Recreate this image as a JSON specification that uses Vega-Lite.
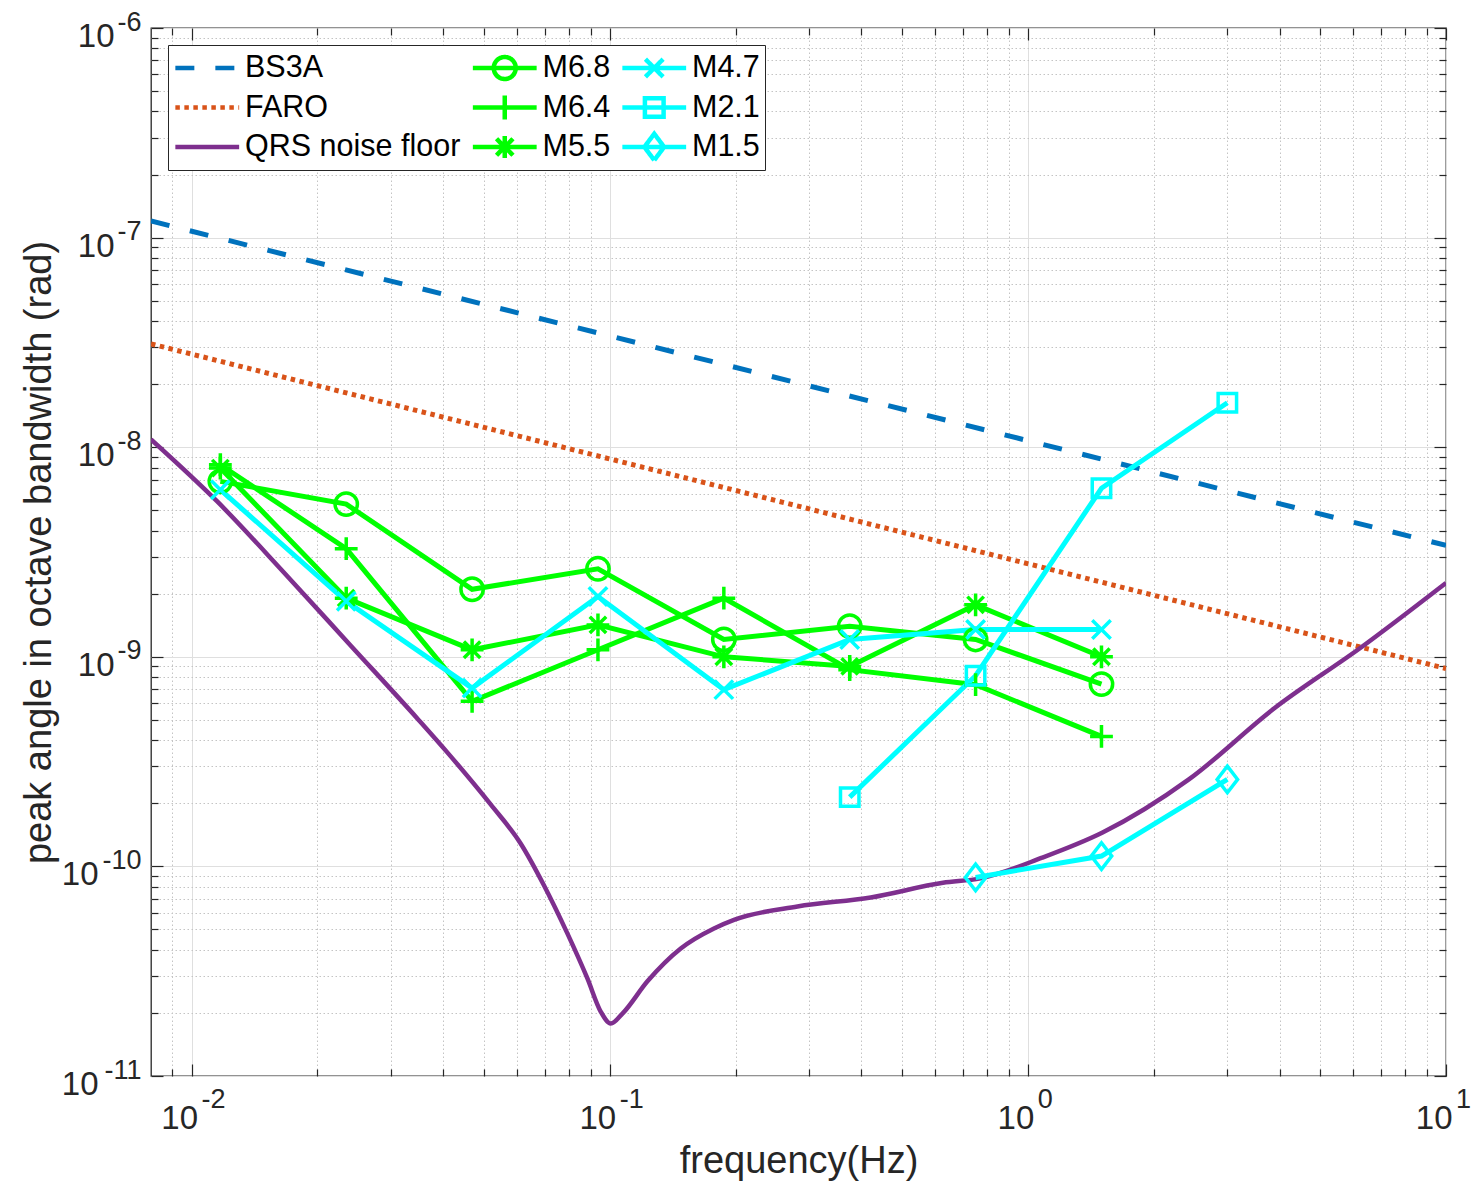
{
  "$schema": "https://vega.github.io/schema/vega-lite/v6.json",
  "width": 1295,
  "height": 1048,
  "autosize": {"type": "none"},
  "padding": {"left": 151, "top": 28, "right": 30, "bottom": 109},
  "background": "white",
  "config": {
    "view": {"stroke": "#262626", "strokeWidth": 1.3},
    "font": "Liberation Sans",
    "axis": {"labelFont": "Liberation Sans", "titleFont": "Liberation Sans", "labelColor": "#262626", "titleColor": "#262626", "tickColor": "#262626", "tickWidth": 1.2}
  },
  "data": {"values": [
    {"series": "BS3A", "f": 0.008, "v": 1.20e-7},
    {"series": "BS3A", "f": 10, "v": 3.40e-9},
    {"series": "FARO", "f": 0.008, "v": 3.11e-8},
    {"series": "FARO", "f": 10, "v": 8.79e-10},
    {"series": "QRS noise floor", "f": 0.008, "v": 1.09e-8},
    {"series": "QRS noise floor", "f": 0.01152, "v": 5.51e-9},
    {"series": "QRS noise floor", "f": 0.01663, "v": 2.527e-9},
    {"series": "QRS noise floor", "f": 0.02401, "v": 1.133e-9},
    {"series": "QRS noise floor", "f": 0.03467, "v": 5.08e-10},
    {"series": "QRS noise floor", "f": 0.04089, "v": 3.50e-10},
    {"series": "QRS noise floor", "f": 0.05192, "v": 1.976e-10},
    {"series": "QRS noise floor", "f": 0.06124, "v": 1.287e-10},
    {"series": "QRS noise floor", "f": 0.06966, "v": 8.11e-11},
    {"series": "QRS noise floor", "f": 0.07921, "v": 4.79e-11},
    {"series": "QRS noise floor", "f": 0.08845, "v": 2.92e-11},
    {"series": "QRS noise floor", "f": 0.09517, "v": 2.03e-11},
    {"series": "QRS noise floor", "f": 0.1006, "v": 1.78e-11},
    {"series": "QRS noise floor", "f": 0.1074, "v": 1.99e-11},
    {"series": "QRS noise floor", "f": 0.1231, "v": 2.83e-11},
    {"series": "QRS noise floor", "f": 0.1479, "v": 4.06e-11},
    {"series": "QRS noise floor", "f": 0.1776, "v": 5.06e-11},
    {"series": "QRS noise floor", "f": 0.1983, "v": 5.56e-11},
    {"series": "QRS noise floor", "f": 0.2812, "v": 6.44e-11},
    {"series": "QRS noise floor", "f": 0.421, "v": 7.11e-11},
    {"series": "QRS noise floor", "f": 0.6267, "v": 8.35e-11},
    {"series": "QRS noise floor", "f": 0.77, "v": 8.77e-11},
    {"series": "QRS noise floor", "f": 1.082, "v": 1.10e-10},
    {"series": "QRS noise floor", "f": 1.509, "v": 1.45e-10},
    {"series": "QRS noise floor", "f": 2.427, "v": 2.60e-10},
    {"series": "QRS noise floor", "f": 3.9, "v": 5.71e-10},
    {"series": "QRS noise floor", "f": 6.272, "v": 1.11e-9},
    {"series": "QRS noise floor", "f": 10, "v": 2.25e-9},
    {"series": "M6.8", "f": 0.01172, "v": 6.87e-9},
    {"series": "M6.8", "f": 0.02344, "v": 5.35e-9},
    {"series": "M6.8", "f": 0.04688, "v": 2.10e-9},
    {"series": "M6.8", "f": 0.09375, "v": 2.63e-9},
    {"series": "M6.8", "f": 0.1875, "v": 1.21e-9},
    {"series": "M6.8", "f": 0.375, "v": 1.40e-9},
    {"series": "M6.8", "f": 0.75, "v": 1.21e-9},
    {"series": "M6.8", "f": 1.5, "v": 7.41e-10},
    {"series": "M6.4", "f": 0.01172, "v": 8.25e-9},
    {"series": "M6.4", "f": 0.02344, "v": 3.28e-9},
    {"series": "M6.4", "f": 0.04688, "v": 6.13e-10},
    {"series": "M6.4", "f": 0.09375, "v": 1.08e-9},
    {"series": "M6.4", "f": 0.1875, "v": 1.905e-9},
    {"series": "M6.4", "f": 0.375, "v": 8.68e-10},
    {"series": "M6.4", "f": 0.75, "v": 7.36e-10},
    {"series": "M6.4", "f": 1.5, "v": 4.17e-10},
    {"series": "M5.5", "f": 0.01172, "v": 7.95e-9},
    {"series": "M5.5", "f": 0.02344, "v": 1.905e-9},
    {"series": "M5.5", "f": 0.04688, "v": 1.08e-9},
    {"series": "M5.5", "f": 0.09375, "v": 1.42e-9},
    {"series": "M5.5", "f": 0.1875, "v": 1.00e-9},
    {"series": "M5.5", "f": 0.375, "v": 9.00e-10},
    {"series": "M5.5", "f": 0.75, "v": 1.77e-9},
    {"series": "M5.5", "f": 1.5, "v": 1.00e-9},
    {"series": "M4.7", "f": 0.01172, "v": 6.27e-9},
    {"series": "M4.7", "f": 0.02344, "v": 1.84e-9},
    {"series": "M4.7", "f": 0.04688, "v": 7.09e-10},
    {"series": "M4.7", "f": 0.09375, "v": 1.94e-9},
    {"series": "M4.7", "f": 0.1875, "v": 6.97e-10},
    {"series": "M4.7", "f": 0.375, "v": 1.21e-9},
    {"series": "M4.7", "f": 0.75, "v": 1.35e-9},
    {"series": "M4.7", "f": 1.5, "v": 1.35e-9},
    {"series": "M2.1", "f": 0.375, "v": 2.14e-10},
    {"series": "M2.1", "f": 0.75, "v": 8.12e-10},
    {"series": "M2.1", "f": 1.5, "v": 6.37e-9},
    {"series": "M2.1", "f": 3.0, "v": 1.63e-8},
    {"series": "M1.5", "f": 0.75, "v": 8.86e-11},
    {"series": "M1.5", "f": 1.5, "v": 1.12e-10},
    {"series": "M1.5", "f": 3.0, "v": 2.60e-10}
  ]},
  "layer": [
    {
      "transform": [{"filter": "false"}],
      "mark": {"type": "point", "filled": false, "opacity": 1, "strokeWidth": 4.5},
      "encoding": {
        "x": {"field": "f", "type": "quantitative", "scale": {"type": "log", "domain": [0.008, 10], "nice": false}, "axis": null},
        "y": {"field": "v", "type": "quantitative", "scale": {"type": "log", "domain": [1e-11, 1e-6], "nice": false}, "axis": null},
        "color": {"field": "series", "type": "nominal", "scale": {"domain": ["BS3A", "FARO", "QRS noise floor", "M6.8", "M6.4", "M5.5", "M4.7", "M2.1", "M1.5"], "range": ["#0072BD", "#D95319", "#7E2F8E", "#00FF00", "#00FF00", "#00FF00", "#00FFFF", "#00FFFF", "#00FFFF"]},
          "legend": {"title": null, "orient": "top-left", "offset": 17, "padding": 5, "fillColor": "white", "strokeColor": "#262626", "columns": 3, "columnPadding": 9.5, "rowPadding": 3.5, "clipHeight": 36, "symbolOffset": 19, "labelOffset": 22.5, "symbolSize": 484, "symbolStrokeWidth": 4.5, "symbolFillColor": "transparent", "symbolOpacity": 1, "labelFont": "Liberation Sans", "labelFontSize": 30.5, "labelColor": "#000000", "labelLimit": 400, "cornerRadius": 0}},
        "strokeDash": {"field": "series", "type": "nominal", "scale": {"domain": ["BS3A", "FARO", "QRS noise floor", "M6.8", "M6.4", "M5.5", "M4.7", "M2.1", "M1.5"], "range": [[19, 21], [4.5, 4.5], [1, 0], [1, 0], [1, 0], [1, 0], [1, 0], [1, 0], [1, 0]]},
          "legend": {"title": null, "orient": "top-left", "offset": 17, "padding": 5, "fillColor": "white", "strokeColor": "#262626", "columns": 3, "columnPadding": 9.5, "rowPadding": 3.5, "clipHeight": 36, "symbolOffset": 19, "labelOffset": 22.5, "symbolSize": 484, "symbolStrokeWidth": 4.5, "symbolFillColor": "transparent", "symbolOpacity": 1, "labelFont": "Liberation Sans", "labelFontSize": 30.5, "labelColor": "#000000", "labelLimit": 400, "cornerRadius": 0}},
        "shape": {"field": "series", "type": "nominal", "scale": {"domain": ["BS3A", "FARO", "QRS noise floor", "M6.8", "M6.4", "M5.5", "M4.7", "M2.1", "M1.5"], "range": [
          "M-2.9,0H2.9",
          "M-2.9,0H2.9",
          "M-2.9,0H2.9",
          "M-2.9,0H2.9M1,0A1,1,0,1,1,-1,0A1,1,0,1,1,1,0",
          "M-2.9,0H2.9M0,-1.1V1.1",
          "M-2.9,0H2.9M0,-1V1M-0.75,-0.75L0.75,0.75M-0.75,0.75L0.75,-0.75",
          "M-2.9,0H2.9M-0.8,-0.8L0.8,0.8M-0.8,0.8L0.8,-0.8",
          "M-2.9,0H2.9M-0.85,-0.85H0.85V0.85H-0.85Z",
          "M-2.9,0H2.9M0,-1.2L0.9,0L0,1.2L-0.9,0Z"
        ]},
          "legend": {"title": null, "orient": "top-left", "offset": 17, "padding": 5, "fillColor": "white", "strokeColor": "#262626", "columns": 3, "columnPadding": 9.5, "rowPadding": 3.5, "clipHeight": 36, "symbolOffset": 19, "labelOffset": 22.5, "symbolSize": 484, "symbolStrokeWidth": 4.5, "symbolFillColor": "transparent", "symbolOpacity": 1, "labelFont": "Liberation Sans", "labelFontSize": 30.5, "labelColor": "#000000", "labelLimit": 400, "cornerRadius": 0}}
      }
    },
    {
      "transform": [{"filter": "datum.series === 'BS3A'"}],
      "mark": {"type": "line", "strokeWidth": 5, "color": "#0072BD", "strokeDash": [19, 21], "clip": true},
      "encoding": {
        "x": {"field": "f", "type": "quantitative", "scale": {"type": "log", "domain": [0.008, 10], "nice": false},
          "axis": {"orient": "bottom", "values": [0.01, 0.1, 1, 10], "labelExpr": "'10'", "labelFontSize": 33, "labelAlign": "right", "labelOffset": 6, "labelBaseline": "top", "labelPadding": 26, "labelFlush": false, "labelOverlap": false, "ticks": false, "domain": false, "grid": true, "gridColor": "#dfdfdf", "gridWidth": 1, "title": "frequency(Hz)", "titleFontSize": 38, "titleFontWeight": "normal", "titlePadding": 7}},
        "y": {"field": "v", "type": "quantitative", "scale": {"type": "log", "domain": [1e-11, 1e-6], "nice": false},
          "axis": {"orient": "left", "values": [1e-6, 1e-7, 1e-8, 1e-9], "labelExpr": "'10'", "labelFontSize": 33, "labelAlign": "right", "labelBaseline": "middle", "labelOffset": 8.4, "labelPadding": 37, "labelOverlap": false, "ticks": false, "domain": false, "grid": true, "gridColor": "#dfdfdf", "gridWidth": 1, "title": null}}
      }
    },
    {
      "transform": [{"filter": "datum.series === 'FARO'"}],
      "mark": {"type": "line", "strokeWidth": 5, "color": "#D95319", "strokeDash": [4.5, 4.5], "clip": true},
      "encoding": {
        "x": {"field": "f", "type": "quantitative", "scale": {"type": "log", "domain": [0.008, 10], "nice": false}, "axis": null},
        "y": {"field": "v", "type": "quantitative", "scale": {"type": "log", "domain": [1e-11, 1e-6], "nice": false}, "axis": null}
      }
    },
    {
      "transform": [{"filter": "datum.series === 'QRS noise floor'"}],
      "mark": {"type": "line", "strokeWidth": 4.5, "color": "#7E2F8E", "interpolate": "monotone", "clip": true},
      "encoding": {
        "x": {"field": "f", "type": "quantitative", "scale": {"type": "log", "domain": [0.008, 10], "nice": false}, "axis": null},
        "y": {"field": "v", "type": "quantitative", "scale": {"type": "log", "domain": [1e-11, 1e-6], "nice": false}, "axis": null}
      }
    },
    {
      "transform": [{"filter": "datum.series === 'M6.8' || datum.series === 'M6.4' || datum.series === 'M5.5'"}],
      "mark": {"type": "line", "strokeWidth": 5, "color": "#00FF00", "clip": true},
      "encoding": {
        "x": {"field": "f", "type": "quantitative", "scale": {"type": "log", "domain": [0.008, 10], "nice": false}, "axis": null},
        "y": {"field": "v", "type": "quantitative", "scale": {"type": "log", "domain": [1e-11, 1e-6], "nice": false}, "axis": null},
        "detail": {"field": "series", "type": "nominal"}
      }
    },
    {
      "transform": [{"filter": "datum.series === 'M4.7' || datum.series === 'M2.1' || datum.series === 'M1.5'"}],
      "mark": {"type": "line", "strokeWidth": 5, "color": "#00FFFF", "clip": true},
      "encoding": {
        "x": {"field": "f", "type": "quantitative", "scale": {"type": "log", "domain": [0.008, 10], "nice": false}, "axis": null},
        "y": {"field": "v", "type": "quantitative", "scale": {"type": "log", "domain": [1e-11, 1e-6], "nice": false}, "axis": null},
        "detail": {"field": "series", "type": "nominal"}
      }
    },
    {
      "transform": [{"filter": "datum.series === 'M6.8'"}],
      "mark": {"type": "point", "shape": "circle", "size": 500, "filled": false, "color": "#00FF00", "strokeWidth": 3.5, "opacity": 1},
      "encoding": {
        "x": {"field": "f", "type": "quantitative", "scale": {"type": "log", "domain": [0.008, 10], "nice": false},
          "axis": {"orient": "bottom", "values": [0.01, 0.1, 1, 10], "labelExpr": "datum.value < 0.05 ? '-2' : datum.value < 0.5 ? '-1' : datum.value < 5 ? '0' : '1'", "labelFontSize": 27, "labelAlign": "left", "labelOffset": 9.5, "labelBaseline": "top", "labelPadding": 10, "labelFlush": false, "labelOverlap": false, "ticks": false, "domain": false, "grid": false, "title": null}},
        "y": {"field": "v", "type": "quantitative", "scale": {"type": "log", "domain": [1e-11, 1e-6], "nice": false},
          "axis": {"orient": "left", "values": [1e-6, 1e-7, 1e-8, 1e-9, 1e-10, 1e-11], "labelExpr": "'-' + round(-log(datum.value) / LN10)", "labelFontSize": 27, "labelAlign": "right", "labelBaseline": "middle", "labelOffset": -6, "labelPadding": 10, "labelOverlap": false, "ticks": false, "domain": false, "grid": false, "title": null}}
      }
    },
    {
      "transform": [{"filter": "datum.series === 'M6.4'"}],
      "mark": {"type": "point", "shape": "M-1,0H1M0,-1V1", "size": 520, "filled": false, "color": "#00FF00", "strokeWidth": 3.5, "opacity": 1},
      "encoding": {
        "x": {"field": "f", "type": "quantitative", "scale": {"type": "log", "domain": [0.008, 10], "nice": false},
          "axis": {"orient": "bottom", "values": [0.009, 0.02, 0.03, 0.04, 0.05, 0.06, 0.07, 0.08, 0.09, 0.2, 0.3, 0.4, 0.5, 0.6, 0.7, 0.8, 0.9, 2, 3, 4, 5, 6, 7, 8, 9], "labels": false, "ticks": true, "tickSize": -7, "domain": false, "grid": true, "gridColor": "#c4c4c4", "gridDash": [1.5, 2.5], "gridWidth": 1, "title": null}},
        "y": {"field": "v", "type": "quantitative", "scale": {"type": "log", "domain": [1e-11, 1e-6], "nice": false},
          "axis": {"orient": "left", "values": [2e-11, 3e-11, 4e-11, 5e-11, 6e-11, 7e-11, 8e-11, 9e-11, 2e-10, 3e-10, 4e-10, 5e-10, 6e-10, 7e-10, 8e-10, 9e-10, 2e-9, 3e-9, 4e-9, 5e-9, 6e-9, 7e-9, 8e-9, 9e-9, 2e-8, 3e-8, 4e-8, 5e-8, 6e-8, 7e-8, 8e-8, 9e-8, 2e-7, 3e-7, 4e-7, 5e-7, 6e-7, 7e-7, 8e-7, 9e-7], "labels": false, "ticks": true, "tickSize": -7, "domain": false, "grid": true, "gridColor": "#c4c4c4", "gridDash": [1.5, 2.5], "gridWidth": 1, "title": null}}
      }
    },
    {
      "transform": [{"filter": "datum.series === 'M5.5'"}],
      "mark": {"type": "point", "shape": "M-1,0H1M0,-1V1M-0.72,-0.72L0.72,0.72M-0.72,0.72L0.72,-0.72", "size": 520, "filled": false, "color": "#00FF00", "strokeWidth": 3.5, "opacity": 1},
      "encoding": {
        "x": {"field": "f", "type": "quantitative", "scale": {"type": "log", "domain": [0.008, 10], "nice": false},
          "axis": {"orient": "bottom", "values": [0.01, 0.1, 1, 10], "labels": false, "ticks": true, "tickSize": -12, "domain": false, "grid": false, "title": null}},
        "y": {"field": "v", "type": "quantitative", "scale": {"type": "log", "domain": [1e-11, 1e-6], "nice": false},
          "axis": {"orient": "left", "values": [1e-6, 1e-7, 1e-8, 1e-9, 1e-10, 1e-11], "labels": false, "ticks": true, "tickSize": -12, "domain": false, "grid": false, "title": null}}
      }
    },
    {
      "transform": [{"filter": "datum.series === 'M4.7'"}],
      "mark": {"type": "point", "shape": "M-1,-1L1,1M-1,1L1,-1", "size": 340, "filled": false, "color": "#00FFFF", "strokeWidth": 3.5, "opacity": 1},
      "encoding": {
        "x": {"field": "f", "type": "quantitative", "scale": {"type": "log", "domain": [0.008, 10], "nice": false},
          "axis": {"orient": "top", "values": [0.01, 0.1, 1, 10], "labels": false, "ticks": true, "tickSize": -12, "domain": false, "grid": false, "title": null}},
        "y": {"field": "v", "type": "quantitative", "scale": {"type": "log", "domain": [1e-11, 1e-6], "nice": false},
          "axis": {"orient": "right", "values": [1e-6, 1e-7, 1e-8, 1e-9, 1e-10, 1e-11], "labels": false, "ticks": true, "tickSize": -12, "domain": false, "grid": false, "title": null}}
      }
    },
    {
      "transform": [{"filter": "datum.series === 'M2.1'"}],
      "mark": {"type": "point", "shape": "square", "size": 340, "filled": false, "color": "#00FFFF", "strokeWidth": 3.5, "opacity": 1},
      "encoding": {
        "x": {"field": "f", "type": "quantitative", "scale": {"type": "log", "domain": [0.008, 10], "nice": false},
          "axis": {"orient": "top", "values": [0.009, 0.02, 0.03, 0.04, 0.05, 0.06, 0.07, 0.08, 0.09, 0.2, 0.3, 0.4, 0.5, 0.6, 0.7, 0.8, 0.9, 2, 3, 4, 5, 6, 7, 8, 9], "labels": false, "ticks": true, "tickSize": -7, "domain": false, "grid": false, "title": null}},
        "y": {"field": "v", "type": "quantitative", "scale": {"type": "log", "domain": [1e-11, 1e-6], "nice": false},
          "axis": {"orient": "right", "values": [2e-11, 3e-11, 4e-11, 5e-11, 6e-11, 7e-11, 8e-11, 9e-11, 2e-10, 3e-10, 4e-10, 5e-10, 6e-10, 7e-10, 8e-10, 9e-10, 2e-9, 3e-9, 4e-9, 5e-9, 6e-9, 7e-9, 8e-9, 9e-9, 2e-8, 3e-8, 4e-8, 5e-8, 6e-8, 7e-8, 8e-8, 9e-8, 2e-7, 3e-7, 4e-7, 5e-7, 6e-7, 7e-7, 8e-7, 9e-7], "labels": false, "ticks": true, "tickSize": -7, "domain": false, "grid": false, "title": null}}
      }
    },
    {
      "transform": [{"filter": "datum.series === 'M1.5'"}],
      "mark": {"type": "point", "shape": "M0,-1.3L1,0L0,1.3L-1,0Z", "size": 420, "filled": false, "color": "#00FFFF", "strokeWidth": 3.5, "opacity": 1},
      "encoding": {
        "x": {"field": "f", "type": "quantitative", "scale": {"type": "log", "domain": [0.008, 10], "nice": false}, "axis": null},
        "y": {"field": "v", "type": "quantitative", "scale": {"type": "log", "domain": [1e-11, 1e-6], "nice": false},
          "axis": {"orient": "left", "values": [1e-10, 1e-11], "labelExpr": "'10'", "labelFontSize": 33, "labelAlign": "right", "labelBaseline": "middle", "labelOffset": 8.4, "labelPadding": 53, "labelOverlap": false, "ticks": false, "domain": false, "grid": true, "gridColor": "#dfdfdf", "gridWidth": 1, "title": "peak angle in octave bandwidth (rad)", "titleFontSize": 38, "titleFontWeight": "normal", "titlePadding": 3}}
      }
    }
  ],
  "resolve": {"axis": {"x": "independent", "y": "independent"}}
}
